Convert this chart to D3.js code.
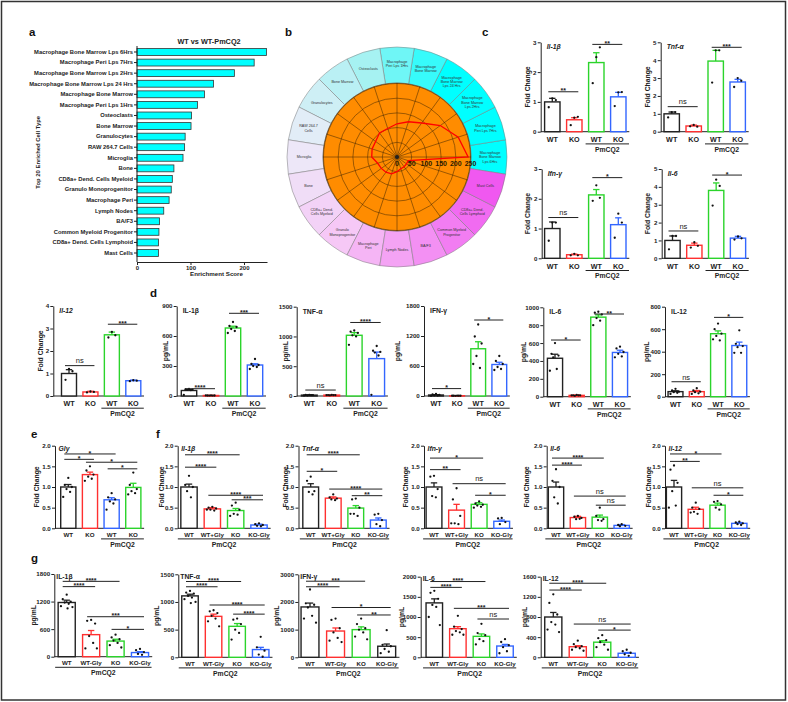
<!DOCTYPE html>
<html>
<head>
<meta charset="utf-8">
<script src="https://cdn.jsdelivr.net/npm/d3@7"></script>
<style>
body{margin:0;background:#fff;overflow:hidden}
svg{display:block}
</style>
</head>
<body>
<script>
// ---- data: panel a / b (enrichment) ----
var cellTypes = ["Macrophage Bone Marrow Lps 6Hrs","Macrophage Peri Lps 7Hrs","Macrophage Bone Marrow Lps 2Hrs",
  "Macrophage Bone Marrow Lps 24 Hrs","Macrophage Bone Marrow","Macrophage Peri Lps 1Hrs","Osteoclasts","Bone Marrow",
  "Granulocytes","RAW 264.7 Cells","Microglia","Bone","CD8a+ Dend. Cells Myeloid","Granulo Monoprogenitor",
  "Macrophage Peri","Lymph Nodes","BA/F3","Common Myeloid Progenitor","CD8a+ Dend. Cells Lymphoid","Mast Cells"];
var radarLabels = ["Macrophage|Bone Marrow|Lps 6Hrs","Macrophage|Peri Lps 7Hrs","Macrophage|Bone Marrow|Lps 2Hrs",
  "Macrophage|Bone Marrow|Lps 24 Hrs","Macrophage|Bone Marrow","Macrophage|Peri Lps 1Hrs","Osteoclasts","Bone Marrow",
  "Granulocytes","RAW 264.7|Cells","Microglia","Bone","CD8a+ Dend.|Cells Myeloid","Granulo|Monoprogenitor",
  "Macrophage|Peri","Lymph Nodes","BA/F3","Common Myeloid|Progenitor","CD8a+ Dend.|Cells Lymphoid","Mast Cells"];
var enrichment = [242,219,182,143,126,113,102,101,90,89,86,69,66,64,60,50,42,41,40,40];
var radarTicks = [0,50,100,150,200,250];

// ---- data: panel c (qPCR, fold change) ----
var grpC = ["WT","KO","WT","KO"];
var cTitles = ["Il-1\u03b2","Tnf-\u03b1","Ifn-\u03b3","Il-6","Il-12"];
var cTicks = [[0,1,2,3],[0,1,2,3,4,5],[0,1,2,3],[0,1,2,3,4,5],[0,1,2,3,4]];
var cMeans = [[1.0,0.4,2.32,1.17],[1.0,0.32,3.95,2.78],[1.0,0.12,2.13,1.13],[1.0,0.73,3.8,1.13],[1.0,0.18,2.72,0.68]];
var cErrs = [[0.12,0.07,0.33,0.15],[0.1,0.05,0.6,0.15],[0.22,0.02,0.18,0.23],[0.25,0.12,0.42,0.1],[0.17,0.03,0.12,0.03]];
var cPts = [
  [[1.12,0.82,1.06],[0.47,0.22,0.5],[2.5,1.63,2.83],[1.32,0.86,1.33]],
  [[1.1,0.8,1.1],[0.38,0.3,0.28],[4.55,2.75,4.55],[3.0,2.5,2.85]],
  [[1.2,0.59,1.2],[0.15,0.1,0.1],[2.45,1.93,2.03],[1.5,0.69,1.2]],
  [[1.25,0.5,1.25],[0.9,0.6,0.7],[4.4,2.95,4.05],[1.22,1.05,1.12]],
  [[1.2,0.72,1.1],[0.2,0.16,0.18],[2.85,2.6,2.7],[0.7,0.66,0.68]]];
var cSigs = [[[0,1,1.34,"**"],[2,3,2.93,"**"]],[[0,1,1.4,"ns"],[2,3,4.72,"***"]],
  [[0,1,1.37,"ns"],[2,3,2.71,"*"]],[[0,1,1.53,"ns"],[2,3,4.66,"*"]],[[0,1,1.35,"ns"],[2,3,3.19,"***"]]];

// ---- data: panel d (ELISA, pg/mL) ----
var dTitles = ["IL-1\u03b2","TNF-\u03b1","IFN-\u03b3","IL-6","IL-12"];
var dTicks = [[0,300,600,900],[0,500,1000,1500],[0,600,1200,1800],[0,200,400,600,800,1000],[0,200,400,600,800]];
var dMeans = [[55,5,680,310],[15,15,1020,628],[20,5,945,630],[430,15,890,495],[45,45,560,455]];
var dErrs = [[8,1,18,12],[3,3,45,110],[5,1,140,45],[45,3,25,25],[8,10,25,30]];
var dPts = [
  [[70,66,64,62,58,10],[6,5,5,4,4,6],[740,700,690,670,650,630],[370,320,310,300,290,270]],
  [[20,18,15,12,15,10],[18,15,15,12,15,15],[1100,1080,1060,1020,1000,860],[840,760,740,730,680,20]],
  [[40,30,20,15,10,5],[6,5,5,4,5,5],[1430,1190,1050,800,560,640],[800,700,640,580,540,520]],
  [[600,480,460,440,310,290],[20,15,15,10,15,15],[950,940,920,880,850,800],[560,540,500,480,450,440]],
  [[70,55,45,40,35,25],[75,55,45,40,30,25],[650,600,560,540,500,510],[590,470,450,440,390,390]]];
var dSigs = [[[0,1,73,"****"],[2,3,827,"***"]],[[0,1,100,"ns"],[2,3,1235,"****"]],
  [[0,1,148,"*"],[2,3,1520,"*"]],[[0,1,634,"*"],[2,3,925,"**"]],[[0,1,133,"ns"],[2,3,705,"*"]]];

// ---- data: panel e (Gly) ----
var eTicks = [0,0.5,1.0,1.5,2.0];
var eMeans = [1.0,1.3,0.69,0.99];
var eErrs = [0.06,0.06,0.05,0.1];
var ePts = [[1.22,1.05,1.0,0.95,0.88,0.76],[1.5,1.4,1.3,1.25,1.2,1.15],[0.85,0.75,0.7,0.65,0.6,0.45],[1.35,1.05,0.95,0.9,0.85,0.82]];
var eSigs = [[0,2,1.8,"*"],[0,1,1.67,"*"],[1,3,1.6,"*"],[2,3,1.44,"*"]];

// ---- data: panel f (fold change with glycine) ----
var grpF = ["WT","WT+Gly","KO","KO-Gly"];
var fTitles = ["Il-1\u03b2","Tnf-\u03b1","Ifn-\u03b3","Il-6","Il-12"];
var fMeans = [[1.0,0.47,0.43,0.08],[1.0,0.73,0.49,0.2],[1.0,0.44,0.58,0.17],[1.0,0.26,0.27,0.07],[1.0,0.46,0.56,0.12]];
var fErrs = [[0.07,0.03,0.05,0.02],[0.08,0.03,0.06,0.05],[0.1,0.14,0.04,0.03],[0.12,0.03,0.05,0.02],[0.16,0.05,0.05,0.02]];
var fPts = [
  [[1.27,1.05,1.0,0.9,0.75],[0.52,0.5,0.48,0.45,0.43,0.45],[0.62,0.55,0.45,0.35,0.33,0.3],[0.12,0.1,0.08,0.06,0.05]],
  [[1.25,1.15,0.9,0.88,0.82],[0.82,0.75,0.72,0.7,0.68],[0.72,0.7,0.5,0.35,0.3,0.35],[0.35,0.33,0.2,0.1,0.05]],
  [[1.27,1.25,0.95,0.78,0.75],[0.97,0.7,0.3,0.12,0.1,0.12],[0.65,0.6,0.57,0.55,0.52,0.5],[0.25,0.24,0.15,0.1]],
  [[1.43,1.15,1.0,0.75,0.6],[0.3,0.28,0.25,0.22,0.23],[0.5,0.3,0.22,0.2,0.18],[0.1,0.08,0.06,0.05]],
  [[1.52,1.42,1.1,0.9,0.55,0.5],[0.62,0.5,0.47,0.4,0.35,0.38],[0.66,0.64,0.58,0.5,0.45],[0.16,0.14,0.12,0.1,0.08]]];
var fSigs = [
  [[0,2,1.78,"****"],[0,1,1.48,"****"],[1,3,0.8,"****"],[2,3,0.69,"***"]],
  [[0,2,1.78,"****"],[0,1,1.38,"*"],[1,3,0.95,"****"],[2,3,0.79,"**"]],
  [[0,2,1.7,"*"],[0,1,1.42,"**"],[1,3,1.08,"ns"],[2,3,0.8,"*"]],
  [[0,2,1.7,"****"],[0,1,1.53,"****"],[1,3,0.78,"ns"],[2,3,0.56,"ns"]],
  [[0,2,1.8,"*"],[0,1,1.62,"**"],[1,3,0.98,"ns"],[2,3,0.8,"*"]]];

// ---- data: panel g (ELISA with glycine) ----
var grpG = ["WT","WT-Gly","KO","KO-Gly"];
var gTitles = ["IL-1\u03b2","TNF-\u03b1","IFN-\u03b3","IL-6","IL-12"];
var gTicks = [[0,600,1200,1800],[0,500,1000,1500],[0,1000,2000,3000],[0,500,1000,1500,2000],[0,400,800,1200,1600]];
var gMeans = [[1180,480,340,90],[1110,740,560,140],[1820,950,1000,400],[1350,710,520,280],[800,210,300,80]];
var gErrs = [[50,90,40,20],[30,40,50,40],[140,110,100,80],[100,50,60,40],[90,20,30,15]];
var gPts = [
  [[1350,1250,1200,1180,1150,1100,1080,1050],[800,780,720,450,300,180,180],[480,420,380,350,300,250,200],[170,140,100,60,40]],
  [[1200,1170,1150,1110,1080,1050,1000,980],[850,830,800,750,700,650,560],[700,680,600,500,440,320],[370,180,120,50,10]],
  [[2450,1950,1900,1800,1500,1400,1250],[1400,1350,1050,900,700,600,550],[1400,1200,1050,1000,900,750,650],[980,450,400,300,200,150]],
  [[1650,1600,1450,1300,1250,1000,800],[1030,760,700,650,620,560,560],[830,600,550,450,400,320],[450,380,300,250,150,100]],
  [[1250,1080,850,700,650,550,500],[330,260,220,200,180,150,130],[440,380,340,300,250,200,150],[150,120,90,60,30]]];
var gSigs = [
  [[0,2,1640,"****"],[0,1,1525,"****"],[1,3,870,"***"],[2,3,595,"*"]],
  [[0,2,1370,"****"],[0,1,1275,"****"],[1,3,945,"****"],[2,3,780,"****"]],
  [[0,2,2750,"***"],[0,1,2550,"****"],[1,3,1800,"*"],[2,3,1530,"**"]],
  [[0,2,1880,"****"],[0,1,1735,"****"],[1,3,1215,"***"],[2,3,950,"ns"]],
  [[0,2,1470,"****"],[0,1,1335,"****"],[1,3,660,"ns"],[2,3,540,"*"]]];

// ---- layout: [y-axis x, first bar centre, last bar centre, baseline y, top tick y, y-title x] ----
var cLayout = [[540.7,552.3,618.3,131.7,42.3,527],[660.7,671.7,737.7,131.7,42.3,647],
  [541.7,552.3,618.3,258.3,169,527],[661.7,672.5,738,258.3,169,647.5],[53.3,69,133.3,396,306,40]];
var dLayout = [[176.7,189,255,396,306,165.7],[296.7,309.3,376.7,396,306.7,285],[424,436,499.3,396,306,397],
  [543.3,555,620,396.7,307.3,523.3],[665,675.5,739.3,396.7,306.7,646.7]];
var eLayout = [55,68.3,133.3,528.3,445.7,36.7];
var fLayout = [[177.7,189,259,528.3,445.7,161.5],[298.5,310.7,378.3,528.3,445.7,285],[424,434,501.7,528.3,445.7,405],
  [546.7,556,621.7,528.3,445.7,526],[665,674,739.3,528.3,445.7,648.3]];
var gLayout = [[54.3,66.7,140,656.7,574,33.3],[178.3,190,260.7,657.3,574.3,156.7],[298.3,310,386.7,657.3,574.3,276.7],
  [420.7,434.3,505,657.3,576.7,401],[540.7,553.3,626.7,657.3,576.7,524]];

var BLACK = "#222", RED = "#ff3030", GREEN = "#2bd42b", BLUE = "#3366ff";
var FONT = "Arial, 'Liberation Sans', sans-serif";

var svg = d3.select("body").append("svg").attr("width",788).attr("height",702).style("font-family",FONT);

// frame
svg.append("rect").attr("x",1.5).attr("y",1.5).attr("width",784).attr("height",698.5)
  .attr("fill","none").attr("stroke","#333").attr("stroke-width",1.5);

// panel letters
[["a",29,36],["b",285,36],["c",482,36],["d",150,297],["e",31,438],["f",156,438],["g",31,562]].forEach(function(p){
  svg.append("text").attr("x",p[1]).attr("y",p[2]).text(p[0])
    .attr("font-size",11.5).attr("font-weight","bold").attr("fill","#111");
});

function styleAxis(sel, size) {
  sel.attr("font-family",null).attr("font-size",null);
  sel.selectAll("text").attr("font-size",size).attr("font-weight","bold").attr("fill","#222");
  sel.selectAll("line,path").attr("stroke","#222").attr("stroke-width",1);
}

// ================= panel a =================
var ga = svg.append("g");
var xa = d3.scaleLinear().domain([0,243]).range([137,267]);
var ya = d3.scaleBand().domain(cellTypes).range([46.7,258.3]).paddingInner(0.35).paddingOuter(0.175);

ga.selectAll("rect").data(enrichment).enter().append("rect")
  .attr("x", xa(0))
  .attr("y", (d,i) => ya(cellTypes[i]))
  .attr("width", d => xa(d) - xa(0))
  .attr("height", ya.bandwidth())
  .attr("fill","#00ffff").attr("stroke","#333").attr("stroke-width",0.8);

var yAxA = ga.append("g").attr("transform","translate(137,0)").call(d3.axisLeft(ya).tickSize(3).tickPadding(1));
styleAxis(yAxA, 5.8);
yAxA.select(".domain").remove();
ga.append("line").attr("x1",137).attr("x2",137).attr("y1",46).attr("y2",262).attr("stroke","#222");
var xAxA = ga.append("g").attr("transform","translate(0,262)")
  .call(d3.axisBottom(xa).tickValues([0,100,200]).tickSize(3).tickSizeOuter(0).tickPadding(0.5));
styleAxis(xAxA, 6);

ga.append("text").attr("x",209).attr("y",44).attr("text-anchor","middle").text("WT vs WT-PmCQ2")
  .attr("font-size",7.3).attr("font-weight","bold").attr("fill","#222");
ga.append("text").attr("x",216.5).attr("y",275.5).attr("text-anchor","middle").text("Enrichment Score")
  .attr("font-size",6.2).attr("font-weight","bold").attr("fill","#222");
ga.append("text").attr("transform","translate(39.5,152.3) rotate(-90)").attr("text-anchor","middle")
  .text("Top 20 Enriched Cell Type").attr("font-size",5.9).attr("font-weight","bold").attr("fill","#222");

// ================= panel b (radial) =================
var gb = svg.append("g").attr("transform","translate(397,157)");
var rr = d3.scaleLinear().domain([0,250]).range([0,73.5]);
var ang = i => Math.PI/2 - i*Math.PI/10;   // d3 angle: 0 at 12 o'clock, clockwise
var segColor = d3.scaleLinear().domain([0,3,6,9.5,13,19])
  .range(["#00ffff","#00ffff","#a6f2f2","#ececf8","#f6c8f6","#f058f0"]);
var segArc = d3.arc().innerRadius(74).outerRadius(110);

gb.selectAll("path.seg").data(cellTypes).enter().append("path").attr("class","seg")
  .attr("d", (d,i) => segArc({startAngle: ang(i) - Math.PI/20, endAngle: ang(i) + Math.PI/20}))
  .attr("fill", (d,i) => segColor(i)).attr("stroke","#7a7a7a").attr("stroke-width",0.5);

gb.append("circle").attr("r",74).attr("fill","#ff8c00").attr("stroke","#555").attr("stroke-width",0.6);
gb.selectAll("circle.ring").data(radarTicks.slice(1)).enter().append("circle").attr("class","ring")
  .attr("r", d => rr(d)).attr("fill","none").attr("stroke","#4a2a00").attr("stroke-width",0.55);
gb.selectAll("line.spoke").data(cellTypes).enter().append("line").attr("class","spoke")
  .attr("x1",0).attr("y1",0)
  .attr("x2",(d,i) => 74*Math.sin(ang(i))).attr("y2",(d,i) => -74*Math.cos(ang(i)))
  .attr("stroke","#4a2a00").attr("stroke-width",0.55);

gb.append("path").datum(enrichment)
  .attr("d", d3.lineRadial().angle((d,i) => ang(i)).radius(d => rr(d)).curve(d3.curveLinearClosed))
  .attr("fill","none").attr("stroke","#ff0000").attr("stroke-width",1.3);
gb.append("circle").attr("r",2).attr("fill","#222");

gb.selectAll("text.rt").data(radarTicks).enter().append("text").attr("class","rt")
  .attr("x", d => rr(d)).attr("y",8.8).attr("text-anchor","middle").text(d => d)
  .attr("font-size",7).attr("font-weight","bold").attr("fill","#2a1a00");

radarLabels.forEach(function(lab, i){
  var th = i*Math.PI/10, lines = lab.split("|"), lh = 4.3;
  var tx = 93*Math.cos(th), ty = -93*Math.sin(th);
  var t = gb.append("text").attr("text-anchor","middle").attr("font-size",3.7).attr("fill","#333");
  lines.forEach(function(s, k){
    t.append("tspan").attr("x",tx).attr("y", ty + 1.3 + (k - (lines.length-1)/2)*lh).text(s);
  });
});

// ================= generic bar chart =================
var dotOffs = [0,-0.55,0.55,-0.28,0.28,-0.8,0.8,0.12];

function barChart(L, o) {
  var ax = L[0], c0 = L[1], cN = L[2], yb = L[3], yt = L[4], ylx = L[5];
  var n = o.cats.length, step = (cN - c0)/(n - 1);
  var x = d3.scaleBand().domain(d3.range(n)).range([c0 - step/2, cN + step/2]).paddingInner(0.3).paddingOuter(0.15);
  var bw = x.bandwidth();
  var y = d3.scaleLinear().domain([0, o.ticks[o.ticks.length-1]]).range([yb, yt]);
  var g = svg.append("g");
  var xc = i => x(i) + bw/2;

  var yAx = g.append("g").attr("transform","translate("+ax+",0)")
    .call(d3.axisLeft(y).tickValues(o.ticks).tickSize(3).tickSizeOuter(0).tickPadding(1.2).tickFormat(o.fmt));
  styleAxis(yAx, 6.2);
  g.append("line").attr("x1",ax).attr("x2",cN + step/2).attr("y1",yb).attr("y2",yb)
    .attr("stroke","#222").attr("stroke-width",1);

  g.selectAll("rect").data(o.mean).enter().append("rect")
    .attr("x",(d,i) => x(i)).attr("y", d => y(d)).attr("width",bw).attr("height", d => yb - y(d))
    .attr("fill","#fff").attr("stroke",(d,i) => o.colors[i]).attr("stroke-width",1.4);

  o.mean.forEach(function(m, i){
    var top = y(m + o.err[i]);
    g.append("line").attr("x1",xc(i)).attr("x2",xc(i)).attr("y1",y(m)).attr("y2",top)
      .attr("stroke",o.colors[i]).attr("stroke-width",1.3);
    g.append("line").attr("x1",xc(i)-3.2).attr("x2",xc(i)+3.2).attr("y1",top).attr("y2",top)
      .attr("stroke",o.colors[i]).attr("stroke-width",1.3);
    g.selectAll(null).data(o.pts[i]).enter().append("circle")
      .attr("cx",(d,j) => xc(i) + dotOffs[j % dotOffs.length]*bw*0.42)
      .attr("cy", d => y(d)).attr("r",1.15).attr("fill","#111");
  });

  o.sig.forEach(function(s){
    var yy = y(s[2]);
    g.append("line").attr("x1",xc(s[0])-4).attr("x2",xc(s[1])+4).attr("y1",yy).attr("y2",yy)
      .attr("stroke","#222").attr("stroke-width",1);
    var ns = s[3] === "ns";
    g.append("text").attr("x",(xc(s[0])+xc(s[1]))/2).attr("y", ns ? yy-2.2 : yy+1.6)
      .attr("text-anchor","middle").text(s[3]).attr("fill","#222")
      .attr("font-size", ns ? 7.5 : 7).attr("font-weight", ns ? "normal" : "bold");
  });

  o.cats.forEach(function(c, i){
    g.append("text").attr("x",xc(i)).attr("y",yb + o.st.lblDy).attr("text-anchor","middle").text(c)
      .attr("font-size",o.st.lblSize).attr("font-weight","bold").attr("fill","#222");
  });

  var p0 = o.pm === "pair" ? 2 : 0;
  var px1 = x(p0) - 3, px2 = x(n-1) + bw + 3, py = yb + o.st.pmDy;
  g.append("line").attr("x1",px1).attr("x2",px2).attr("y1",py).attr("y2",py).attr("stroke","#222").attr("stroke-width",1);
  g.append("text").attr("x",(px1+px2)/2).attr("y",py + 7.6).attr("text-anchor","middle").text("PmCQ2")
    .attr("font-size",6.8).attr("font-weight","bold").attr("fill","#222");

  g.append("text").attr("transform","translate("+(ylx+2.5)+","+((yb+yt)/2)+") rotate(-90)")
    .attr("text-anchor","middle").text(o.ylab)
    .attr("font-size",6.8).attr("font-weight","bold").attr("fill","#222");

  g.append("text").attr("x",ax + o.st.tdx).attr("y",yt + o.st.tdy).text(o.title)
    .attr("font-size",6.8).attr("font-weight","bold").attr("fill","#222")
    .attr("font-style", o.italic ? "italic" : "normal");
}

var colStd = [BLACK, RED, GREEN, BLUE];
var stCD = {lblDy:10.2, lblSize:7.2, pmDy:12.2, tdx:6, tdy:6.8};
var stF = {lblDy:8.4, lblSize:6.2, pmDy:10.6, tdx:3.5, tdy:5.2};
var stG = {lblDy:8.3, lblSize:6.2, pmDy:10.6, tdx:2, tdy:4.6};
var fmtInt = d3.format("d"), fmt1 = d3.format(".1f");

cTitles.forEach(function(t, k){
  barChart(cLayout[k], {cats:grpC, colors:colStd, mean:cMeans[k], err:cErrs[k], pts:cPts[k], sig:cSigs[k],
    ticks:cTicks[k], fmt:fmtInt, title:t, italic:true, ylab:"Fold Change", pm:"pair", st:stCD});
});
dTitles.forEach(function(t, k){
  barChart(dLayout[k], {cats:grpC, colors:colStd, mean:dMeans[k], err:dErrs[k], pts:dPts[k], sig:dSigs[k],
    ticks:dTicks[k], fmt:fmtInt, title:t, italic:false, ylab:"pg/mL", pm:"pair", st:stCD});
});
barChart(eLayout, {cats:grpC, colors:[BLACK, RED, BLUE, GREEN], mean:eMeans, err:eErrs, pts:ePts, sig:eSigs,
  ticks:eTicks, fmt:fmt1, title:"Gly", italic:true, ylab:"Fold Change", pm:"pair", st:stF});
fTitles.forEach(function(t, k){
  barChart(fLayout[k], {cats:grpF, colors:colStd, mean:fMeans[k], err:fErrs[k], pts:fPts[k], sig:fSigs[k],
    ticks:eTicks, fmt:fmt1, title:t, italic:true, ylab:"Fold Change", pm:"all", st:stF});
});
gTitles.forEach(function(t, k){
  barChart(gLayout[k], {cats:grpG, colors: k === 2 ? [BLACK, RED, GREEN, BLACK] : colStd,
    mean:gMeans[k], err:gErrs[k], pts:gPts[k], sig:gSigs[k],
    ticks:gTicks[k], fmt:fmtInt, title:t, italic:false, ylab:"pg/mL", pm:"all", st:stG});
});
</script>
</body>
</html>
